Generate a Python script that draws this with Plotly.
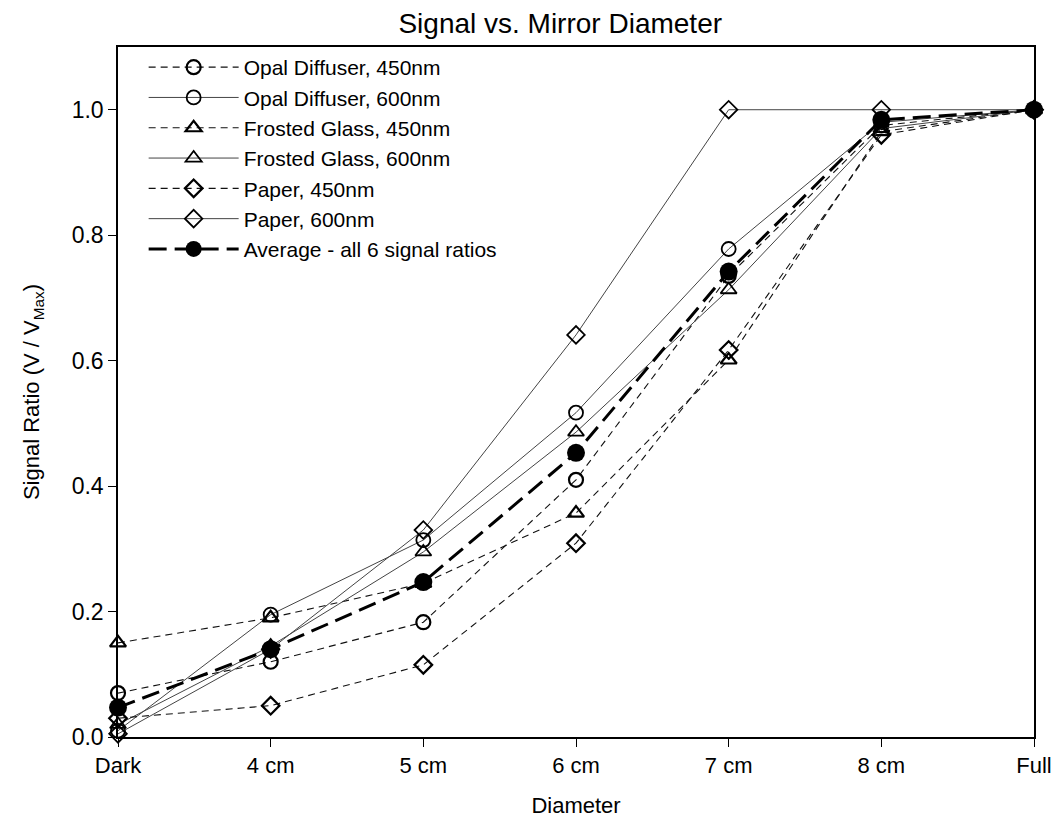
import plotly.graph_objects as go

categories = ["Dark", "4 cm", "5 cm", "6 cm", "7 cm", "8 cm", "Full"]

opal_450 = [0.07, 0.12, 0.183, 0.41, 0.735, 0.975, 1.0]
opal_600 = [0.01, 0.195, 0.314, 0.517, 0.778, 0.98, 1.0]
frosted_450 = [0.15, 0.19, 0.245, 0.357, 0.601, 0.965, 1.0]
frosted_600 = [0.02, 0.145, 0.295, 0.486, 0.713, 0.97, 1.0]
paper_450 = [0.03, 0.05, 0.115, 0.309, 0.617, 0.96, 1.0]
paper_600 = [0.005, 0.14, 0.33, 0.641, 1.0, 1.0, 1.0]
average = [0.047, 0.14, 0.247, 0.453, 0.742, 0.984, 1.0]

series = [
    ("Opal Diffuser, 450nm", opal_450, "circle-open", "dash", 14),
    ("Opal Diffuser, 600nm", opal_600, "circle-open", "solid", 14),
    ("Frosted Glass, 450nm", frosted_450, "triangle-up-open", "dash", 14),
    ("Frosted Glass, 600nm", frosted_600, "triangle-up-open", "solid", 14),
    ("Paper, 450nm", paper_450, "diamond-open", "dash", 13.5),
    ("Paper, 600nm", paper_600, "diamond-open", "solid", 13.5),
]

fig = go.Figure()
for name, vals, sym, dash, msize in series:
    is_dash = dash == "dash"
    fig.add_trace(go.Scatter(
        x=categories, y=vals, name=name, mode="lines+markers",
        line=dict(color="#111111" if is_dash else "#444444", width=1.1 if is_dash else 1,
                  dash="7px,5px" if is_dash else "solid"),
        marker=dict(symbol=sym, size=msize, color="black",
                    line=dict(color="black", width=2.2 if is_dash else 1.8)),
        cliponaxis=False,
    ))

fig.add_trace(go.Scatter(
    x=categories, y=average, name="Average - all 6 signal ratios",
    mode="lines+markers",
    line=dict(color="black", width=3, dash="18px,8px"),
    marker=dict(symbol="circle", size=18, color="black"),
    cliponaxis=False,
))

font = "Liberation Sans, Arial, Helvetica, sans-serif"
fig.update_layout(
    width=1062, height=824,
    paper_bgcolor="white", plot_bgcolor="white",
    margin=dict(l=110, r=36, t=39, b=95, autoexpand=False),
    title=dict(text="Signal vs. Mirror Diameter", x=0.52, xref="container", xanchor="center",
               y=0.994, yref="container", yanchor="top", pad=dict(t=0, b=0),
               font=dict(family=font, size=28, color="black")),
    font=dict(family=font, color="black"),
    showlegend=True,
    legend=dict(x=0.028, y=1.0, xanchor="left", yanchor="top",
                bgcolor="rgba(0,0,0,0)", font=dict(family=font, size=21, color="black"),
                itemwidth=90, tracegroupgap=0),
    xaxis=dict(
        type="category", range=[0, 6], showgrid=False, zeroline=False,
        showline=True, linecolor="black", linewidth=1.5, mirror=True,
        ticks="outside", ticklen=8, tickwidth=1.3, tickcolor="black",
        tickfont=dict(family=font, size=22, color="black"),
        title=dict(text="Diameter", font=dict(family=font, size=22, color="black"), standoff=20),
    ),
    yaxis=dict(
        range=[0, 1.1], showgrid=False, zeroline=False,
        tickvals=[0, 0.2, 0.4, 0.6, 0.8, 1.0],
        ticktext=["0.0", "0.2", "0.4", "0.6", "0.8", "1.0"],
        showline=True, linecolor="black", linewidth=1.5, mirror=True,
        ticks="outside", ticklen=8, tickwidth=1.3, tickcolor="black",
        tickfont=dict(family=font, size=23, color="black"),
        title=dict(text="Signal Ratio (V / V<sub>Max</sub>)",
                   font=dict(family=font, size=22, color="black"), standoff=26),
    ),
)

fig.write_html("out.html")
